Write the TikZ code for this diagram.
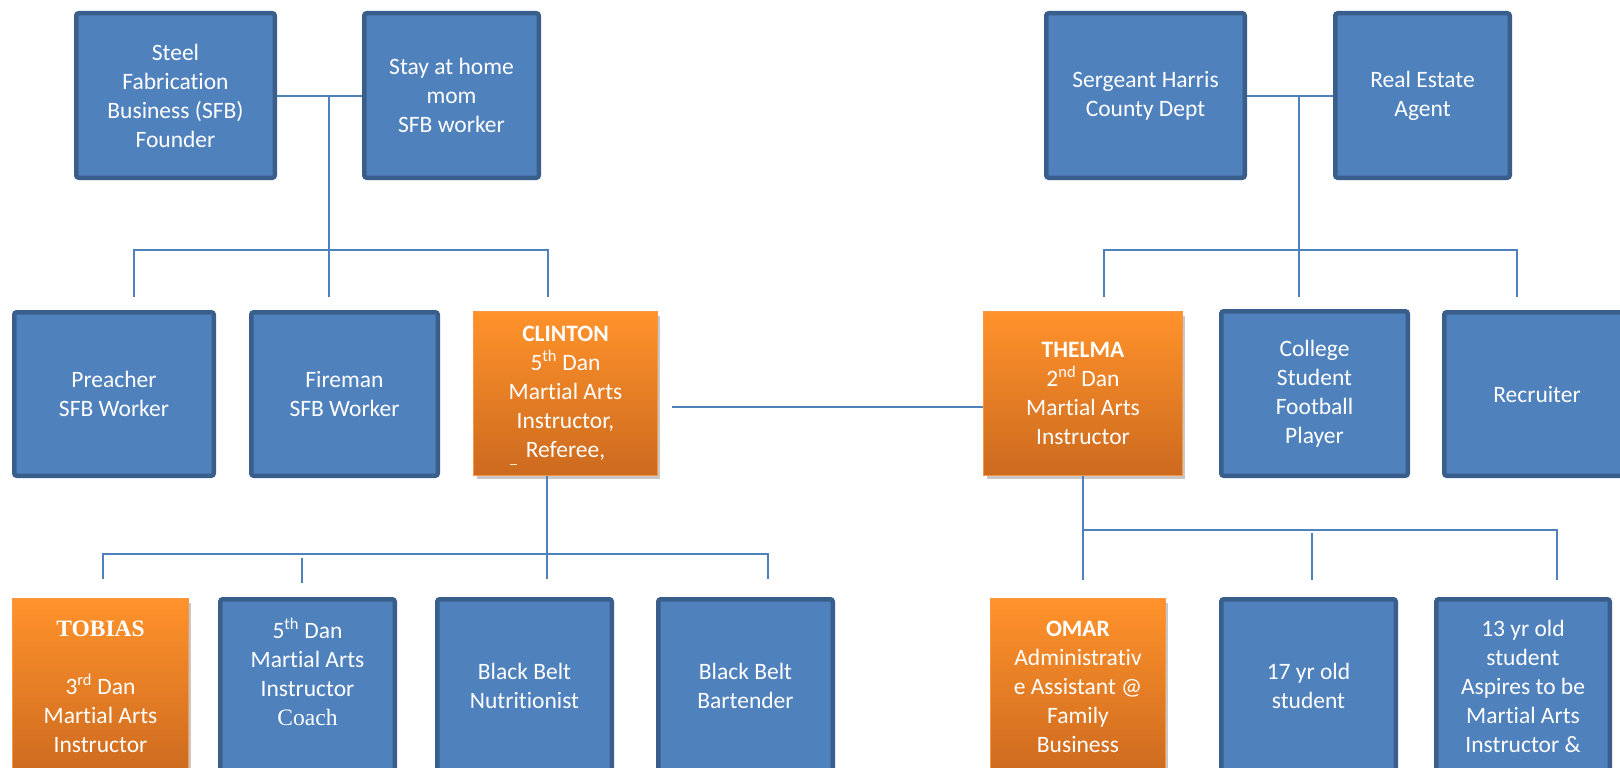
\documentclass[tikz,border=0pt]{standalone}
\usepackage{fontspec}
\setmainfont{Carlito}[Ligatures=NoCommon]
\newfontfamily\timesfam{Liberation Serif}
\usetikzlibrary{shadows,calc}
\definecolor{boxblue}{HTML}{4F81BD}
\definecolor{boxedge}{HTML}{3A5E8C}
\definecolor{linkblue}{HTML}{4F81BD}
\definecolor{orTop}{HTML}{FF922B}
\definecolor{orBot}{HTML}{CC6A1F}
\definecolor{orEdge}{HTML}{F79646}
\newcommand\orgfont{\fontsize{23.5}{29}\selectfont}
\begin{document}
\begin{tikzpicture}[x=1pt,y=-1pt,
  bluebox/.style={draw=boxedge, fill=boxblue, line width=4.5pt, rounded corners=2.5pt,
    text=white, align=center, inner sep=0pt, font=\orgfont},
  bsize/.style 2 args={minimum width=#1-4.5, minimum height=#2-4.5},
  orbox/.style={draw=orEdge, line width=1.2pt, top color=orTop, bottom color=orBot,
    drop shadow={shadow xshift=3pt, shadow yshift=-4pt, fill=black, opacity=0.22},
    text=white, align=center, inner sep=0pt, font=\orgfont},
  osize/.style 2 args={minimum width=#1-1.2, minimum height=#2-1.2},
  link/.style={draw=linkblue, line width=2pt}
]
\useasboundingbox (0,0) rectangle (1620,768);
\fill[white] (0,0) rectangle (1620,768);
\clip (0,0) rectangle (1620,768);

% top row
\node[bluebox, bsize={203}{169}] (steel) at (175.5,95.5) {Steel\\Fabrication\\Business (SFB)\\Founder};
\node[bluebox, bsize={179}{169}] (stay) at (451.5,95.5) {Stay at home\\mom\\SFB worker};
\node[bluebox, bsize={203}{169}] (serg) at (1145.5,95.5) {Sergeant Harris\\County Dept};
\node[bluebox, bsize={179}{169}] (real) at (1422.5,95.5) {Real Estate\\Agent};

% second row
\node[bluebox, bsize={204}{168}] (preacher) at (114,394) {Preacher\\SFB Worker};
\node[bluebox, bsize={191}{168}] (fireman) at (344.5,394) {Fireman\\SFB Worker};
\node[orbox, osize={185}{165}] (clinton) at (565.5,393.5) {\textbf{CLINTON}\\5\textsuperscript{th} Dan\\Martial Arts\\Instructor,\\Referee,};
\node[orbox, osize={200}{165}] (thelma) at (1083,393.5) {\textbf{THELMA}\\2\textsuperscript{nd} Dan\\Martial Arts\\Instructor};
\node[bluebox, bsize={191}{169}] (college) at (1314.5,393.5) {College\\Student\\Football\\Player};
\node[bluebox, bsize={190}{168}] (recruiter) at (1537,394) {Recruiter};
\draw[white!75!orTop, line width=1pt] (510,464) -- (517,464);

% third row
\node[orbox, osize={177}{178}] (tobias) at (100.5,687) {{\timesfam\bfseries TOBIAS}\\[29pt]3\textsuperscript{rd} Dan\\Martial Arts\\Instructor};
\node[bluebox, bsize={179}{178}] (coach) at (307.5,686) {5\textsuperscript{th} Dan\\Martial Arts\\Instructor\\{\timesfam Coach}\\\mbox{}};
\node[bluebox, bsize={179}{178}] (nutri) at (524.5,686) {Black Belt\\Nutritionist};
\node[bluebox, bsize={179}{178}] (bart) at (745.5,686) {Black Belt\\Bartender};
\node[orbox, osize={176}{178}] (omar) at (1078,687) {\textbf{OMAR}\\Administrativ\\e Assistant @\\Family\\Business};
\node[bluebox, bsize={179}{178}] (s17) at (1308.5,686) {17 yr old\\student};
\node[bluebox, bsize={178}{178}] (s13) at (1523,686) {13 yr old\\student\\Aspires to be\\Martial Arts\\Instructor \&};

% connectors: left family
\coordinate (lj) at (329,95.5);
\coordinate (lbus) at (329,250);
\draw[link] (steel.east) -- (stay.west);
\draw[link] (lj) -- (lbus);
\draw[link] (134,297) -- (134,250) -- (548,250) -- (548,297);
\draw[link] (lbus) -- (329,297);

% connectors: right family
\coordinate (rj) at (1299,95.5);
\coordinate (rbus) at (1299,250);
\draw[link] (serg.east) -- (real.west);
\draw[link] (rj) -- (rbus);
\draw[link] (1104,297) -- (1104,250) -- (1517,250) -- (1517,297);
\draw[link] (rbus) -- (1299,297);

% marriage line
\draw[link] ($(clinton.east)+(14,13.5)$) -- ($(thelma.west)+(0,13.5)$);

% Clinton's children
\coordinate (cbus) at (547,554);
\draw[link] (547,476) -- (cbus);
\draw[link] (103,579) -- (103,554) -- (768,554) -- (768,579);
\draw[link] (cbus) -- (547,579);
\draw[link] (302,558) -- (302,583);

% Thelma's children
\coordinate (tbus) at (1083,530);
\draw[link] (1083,476) -- (1083,580);
\draw[link] (tbus) -- (1557,530) -- (1557,580);
\draw[link] (1312,533) -- (1312,580);
\end{tikzpicture}
\end{document}
